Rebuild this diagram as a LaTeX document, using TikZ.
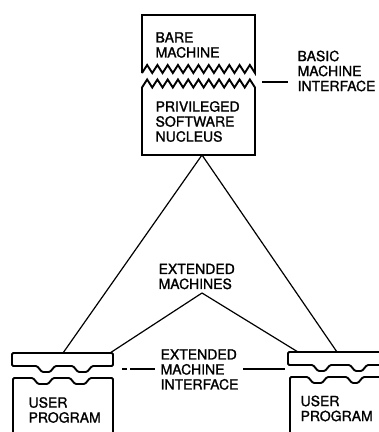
\documentclass[tikz,border=0pt]{standalone}
\usepackage{fontspec}
\setmainfont[FakeBold=1.3]{TeX Gyre Heros}
\begin{document}
\begin{tikzpicture}[x=1pt, y=-1pt, line width=1.2pt, line join=round]
  \tikzset{lbl/.style={font=\fontsize{14}{15}\selectfont, align=left, anchor=west, inner sep=0pt},
    boxln/.style={line width=1.9pt, rounded corners=1.2pt},
    zigln/.style={line width=1.9pt, line join=miter, miter limit=4}}
  \useasboundingbox (0,0) rectangle (379,432);
  \clip (0,0) rectangle (379,432);
  \coordinate (apex) at (202,155); \coordinate (ext) at (202,293);
  \coordinate (lidLa) at (63,353); \coordinate (lidLb) at (110,353);
  \coordinate (lidRa) at (298,352); \coordinate (lidRb) at (337,352);
  % bare machine / nucleus (zigzag seam)
  \draw[zigln] (142,73) -- (142,15) -- (255,15) -- (255,73)
    \foreach \i in {21,...,0} { -- ({142+\i*113/22},{65+8*iseven(\i)}) };
  \draw[zigln] (142,87.5) \foreach \i in {1,...,22} { -- ({142+\i*113/22},{79.5+8*iseven(\i)}) }
    -- (255,155) -- (142,155) -- cycle;
  % left user box
  \draw[boxln] (12,353) -- (113,353) -- (113,366) -- (92,366) -- (87,372) -- (78,372) -- (73,366)
    -- (55,366) -- (50,372) -- (42,372) -- (37,366) -- (12,366) -- cycle;
  \draw[boxln] (13,440) -- (13,378) -- (33,378) -- (38,384) -- (48,384) -- (53,378) -- (70,378)
    -- (75,384) -- (85,384) -- (90,378) -- (113,378) -- (113,440);
  % right user box
  \draw[boxln] (390,352) -- (288,352) -- (288,365) -- (313,365) -- (318,371) -- (325,371) -- (330,365)
    -- (350,365) -- (355,371) -- (362,371) -- (367,365) -- (390,365);
  \draw[boxln] (290,440) -- (290,377) -- (308,377) -- (313,383) -- (322,383) -- (327,377) -- (347,377)
    -- (352,383) -- (358,383) -- (363,377) -- (390,377);
  % labels
  \node[lbl] (bare) at (155,45) {BARE\\MACHINE};
  \node[lbl] (nucleus) at (155,121.5) {PRIVILEGED\\SOFTWARE\\NUCLEUS};
  \node[lbl] (bmi) at (297,71) {BASIC\\MACHINE\\INTERFACE};
  \node[lbl] (extm) at (158,276.5) {EXTENDED\\MACHINES};
  \node[lbl] (emi) at (160,369.5) {EXTENDED\\MACHINE\\INTERFACE};
  \node[lbl] (userL) at (28,410) {USER\\PROGRAM};
  \node[lbl] (userR) at (300,408.5) {USER\\PROGRAM};
  % leaders
  \coordinate (bmiA) at (262,82); \coordinate (bmiB) at (288,82);
  \draw (bmiA) -- (bmiB);
  \coordinate (emiA) at (122,369); \coordinate (emiB) at (155,369);
  \draw[dash pattern=on 5pt off 3pt on 30pt] (emiA) -- (emiB);
  \coordinate (emiC) at (243,369); \coordinate (emiD) at (285,369);
  \draw (emiC) -- (emiD);
  % machines
  \draw (lidLa) -- (apex) -- (lidRb);
  \draw (lidLb) -- (ext) -- (lidRa);
\end{tikzpicture}
\end{document}
